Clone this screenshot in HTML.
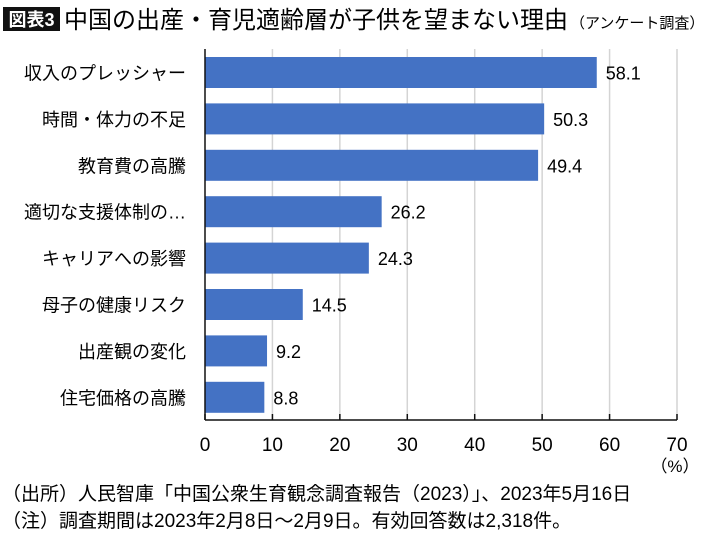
<!DOCTYPE html>
<html><head><meta charset="utf-8"><style>
body{margin:0;width:710px;height:534px;background:#fff;overflow:hidden;font-family:"Liberation Sans","Noto Sans CJK JP",sans-serif;color:#111}
svg text{font-family:"Liberation Sans","Noto Sans CJK JP",sans-serif}
</style></head><body>
<svg width="710" height="534">
<rect x="3" y="7" width="57" height="24" fill="#111"/>
<text x="31.5" y="26" font-size="18" fill="#fff" text-anchor="middle" font-weight="bold">図表3</text>
<text x="64" y="28" font-size="24">中国の出産・育児適齢層が子供を望まない理由<tspan font-size="15" dx="2">（アンケート調査）</tspan></text>
<g id="plot"></g>
<text x="2" y="500" font-size="19">（出所）人民智庫「中国公衆生育観念調査報告（2023）」、2023年5月16日</text>
<text x="2" y="527" font-size="19">（注）調査期間は2023年2月8日～2月9日。有効回答数は2,318件。</text>
</svg>
<script>
const categories=["収入のプレッシャー","時間・体力の不足","教育費の高騰","適切な支援体制の…","キャリアへの影響","母子の健康リスク","出産観の変化","住宅価格の高騰"];
const values=[58.1,50.3,49.4,26.2,24.3,14.5,9.2,8.8];
const ticks=[0,10,20,30,40,50,60,70];
const NS="http://www.w3.org/2000/svg";
const g=document.getElementById('plot');
const x0=205,x1=677,plotTop=49,axisY=420,band=46.4,firstC=72.5,bh=31;
const xs=v=>x0+(x1-x0)*v/70;
const yc=i=>firstC+i*band;
function mk(t,a,txt){const e=document.createElementNS(NS,t);for(const k in a)e.setAttribute(k,a[k]);if(txt!==undefined)e.textContent=txt;g.appendChild(e);return e;}
ticks.forEach(t=>{
 if(t>0){const l=mk('line',{x1:xs(t),x2:xs(t),y1:plotTop,y2:axisY,stroke:'#d4d4d4','stroke-width':1.5});
 
 }
 const tk=mk('line',{x1:xs(t),x2:xs(t),y1:axisY-6,y2:axisY,stroke:'#111','stroke-width':1.5});
 
 
 const tl=mk('text',{x:xs(t),y:451,'font-size':19,'text-anchor':'middle'},String(t));
 
 
});
const u=mk('text',{x:xs(70)-2,y:472,'font-size':17,'text-anchor':'middle'},'（%）');


values.forEach((v,i)=>{
 const r=mk('rect',{x:x0,y:yc(i)-bh/2,width:xs(v)-x0,height:bh,fill:'#4472c4'});
 
 
 const vl=mk('text',{x:xs(v)+9,y:yc(i)+7,'font-size':18},v.toFixed(1));
 
 
 const cl=mk('text',{x:186,y:yc(i)+7,'font-size':18,'text-anchor':'end'},categories[i]);
 
 
});
const ya=mk('line',{x1:x0,x2:x0,y1:plotTop,y2:axisY,stroke:'#111','stroke-width':1.5});


const xa=mk('line',{x1:x0,x2:x1,y1:axisY,y2:axisY,stroke:'#111','stroke-width':1.5});


</script>
</body></html>
